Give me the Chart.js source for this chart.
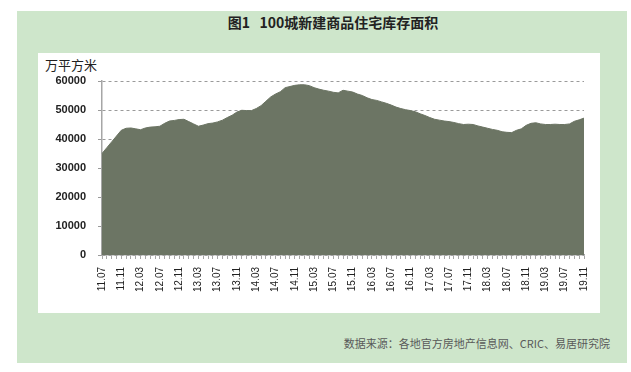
<!DOCTYPE html>
<html>
<head>
<meta charset="utf-8">
<script src="https://cdn.jsdelivr.net/npm/chart.js@4/dist/chart.umd.min.js"></script>
<style>
  html, body { margin: 0; padding: 0; background: #fff; }
  #wrap { position: relative; width: 631px; height: 372px; overflow: hidden; }
  #green { position: absolute; left: 17px; top: 11px; width: 610px; height: 352px; background: #cee6cb; }
  #panel { position: absolute; left: 38px; top: 53px; width: 562px; height: 260px; background: #fff; }
  #title { position: absolute; left: 0; width: 666px; top: 12px; text-align: center;
           font: bold 14px "Noto Sans CJK SC", sans-serif; color: #222; }
  #unit { position: absolute; left: 45px; top: 55px; font: 13px "Noto Sans CJK SC", sans-serif; color: #222; }
  #source { position: absolute; right: 21px; top: 335px; font: 11px "Noto Sans CJK SC", sans-serif; color: #595959; }
  canvas { position: absolute; left: 0; top: 0; }
</style>
</head>
<body>
<div id="wrap">
  <div id="green"></div>
  <div id="panel"></div>
  <div id="title">图1&nbsp;&nbsp;&nbsp;100城新建商品住宅库存面积</div>
  <div id="unit">万平方米</div>
  <div id="source">数据来源：各地官方房地产信息网、CRIC、易居研究院</div>
  <canvas id="myChart" width="631" height="372"></canvas>
</div>
<script>
// monthly categories 2011.07 - 2019.11
const labels = [];
for (let y = 2011, m = 7; y < 2019 || (y === 2019 && m <= 11); ) {
  labels.push(String(y % 100).padStart(2, "0") + "." + String(m).padStart(2, "0"));
  m++;
  if (m > 12) { m = 1; y++; }
}

// labels shown on the axis (every 4 months)
const tickLabels = ["11.07", "11.11", "12.03", "12.07", "12.11", "13.03", "13.07", "13.11",
  "14.03", "14.07", "14.11", "15.03", "15.07", "15.11", "16.03", "16.07", "16.11",
  "17.03", "17.07", "17.11", "18.03", "18.07", "18.11", "19.03", "19.07", "19.11"];

const yTicks = [0, 10000, 20000, 30000, 40000, 50000, 60000];

// 库存面积 (万平方米)
const inventory = [
  35000, 37000, 39000, 41000, 43000, 43700, 43800, 43500, 43200, 43800,
  44100, 44200, 44400, 45400, 46200, 46400, 46700, 46800, 46000, 45200,
  44400, 44800, 45300, 45500, 45900, 46500, 47400, 48200, 49300, 49900,
  49800, 49800, 50500, 51500, 53000, 54500, 55500, 56300, 57700, 58100,
  58500, 58700, 58700, 58400, 57700, 57200, 56800, 56500, 56100, 55900,
  56800, 56500, 56200, 55500, 55000, 54200, 53600, 53300, 52800, 52300,
  51700, 51000, 50500, 50100, 49800, 49400, 48700, 48100, 47400, 46800,
  46500, 46200, 46000, 45700, 45300, 45000, 45100, 45000, 44500, 44100,
  43700, 43300, 43000, 42500, 42300, 42200, 43000, 43500, 44700, 45400,
  45600, 45200, 45000, 45000, 45100, 45000, 45000, 45200, 46100, 46600,
  47200
];

const ctx = document.getElementById("myChart").getContext("2d");

const config = {
  type: "line",
  data: {
    labels: labels,
    datasets: [
      {
        data: inventory,
        fill: "origin",
        backgroundColor: "#6c7564",
        borderColor: "#6c7564",
        borderWidth: 1,
        pointRadius: 0,
        tension: 0,
      },
    ],
  },
  options: {
    responsive: false,
    animation: false,
    layout: { padding: { left: 0, right: 47, top: 81, bottom: 67 } },
    plugins: { legend: { display: false }, tooltip: { enabled: false } },
    scales: {
      x: {
        offset: false,
        afterFit: (scale) => { scale.height = 50; },
        grid: { drawOnChartArea: false, tickLength: 4, color: "#a6a6a6" },
        border: { color: "#a6a6a6", width: 1.5 },
        ticks: {
          autoSkip: false,
          minRotation: 90,
          maxRotation: 90,
          padding: 8,
          color: "#222",
          font: { family: "Liberation Sans", size: 10 },
          callback: function (val, idx) {
            const lab = labels[idx];
            return tickLabels.includes(lab) ? lab : "";
          },
        },
      },
      y: {
        min: yTicks[0],
        max: yTicks[yTicks.length - 1],
        afterFit: (scale) => { scale.width = 102; },
        afterBuildTicks: (scale) => { scale.ticks = yTicks.map((v) => ({ value: v })); },
        grid: { color: "#9a9a9a", tickLength: 4, lineWidth: 1, tickBorderDash: [] },
        border: { color: "#a6a6a6", width: 1.5, dash: [3, 3] },
        ticks: {
          padding: 12,
          color: "#222",
          font: { family: "Liberation Sans", size: 11, weight: "bold" },
          callback: (v) => String(v),
        },
      },
    },
  },
};

const myChart = new Chart(ctx, config);
</script>
</body>
</html>
